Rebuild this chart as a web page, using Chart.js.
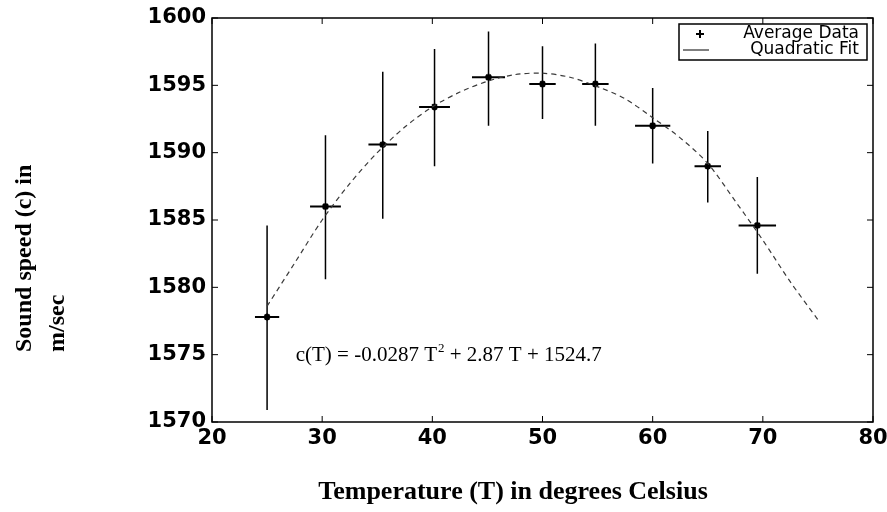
<!DOCTYPE html>
<html>
<head>
<meta charset="utf-8">
<script src="https://cdn.jsdelivr.net/npm/chart.js@4.4.1/dist/chart.umd.min.js"></script>
<style>
  html, body { margin: 0; padding: 0; background: #fff; }
  #wrap { width: 887px; height: 512px; }
</style>
</head>
<body>
<div id="wrap"><canvas id="soundChart" width="887" height="512"></canvas></div>
<script>
const tempC = [25, 30.3, 35.5, 40.2, 45.1, 50.0, 54.8, 60.0, 65.0, 69.5];
const avgSpeed = [1577.8, 1586.0, 1590.6, 1593.4, 1595.6, 1595.1, 1595.1, 1592.0, 1589.0, 1584.6];
const upperSpeed = [1584.6, 1591.3, 1596.0, 1597.7, 1599.0, 1597.9, 1598.1, 1594.8, 1591.6, 1588.2];
const lowerSpeed = [1570.9, 1580.6, 1585.1, 1589.0, 1592.0, 1592.5, 1592.0, 1589.2, 1586.3, 1581.0];
const tempHalfWidth = [1.1, 1.4, 1.3, 1.4, 1.5, 1.2, 1.2, 1.6, 1.2, 1.7];

// Quadratic fit curve as drawn
const fitTemp = [25, 27.5, 30, 32.5, 35, 37.5, 40, 42.5, 45, 47.5, 50, 52.5, 55, 57.5, 60, 62.5, 65, 67.5, 70, 72.5, 75];
const fitSpeed = [1578.6, 1581.8, 1585.0, 1587.7, 1590.0, 1591.9, 1593.4, 1594.5, 1595.3, 1595.8, 1595.9, 1595.6, 1594.9, 1594.0, 1592.6, 1591.1, 1589.2, 1586.4, 1583.5, 1580.4, 1577.6];

const xTicks = [20, 30, 40, 50, 60, 70, 80];
const yTicks = [1570, 1575, 1580, 1585, 1590, 1595, 1600];

const legendLabels = ['Average Data', 'Quadratic Fit'];
const equationText = ['c(T) = -0.0287 T', '2', ' + 2.87 T + 1524.7'];
const xTitle = 'Temperature (T) in degrees Celsius';
const yTitle = ['Sound speed (c) in', 'm/sec'];

// build segment lists for the error bars
const vBars = [];
const hBars = [];
tempC.forEach((t, i) => {
    vBars.push({ x: t, y: lowerSpeed[i] }, { x: t, y: upperSpeed[i] }, { x: t, y: null });
    hBars.push({ x: t - tempHalfWidth[i], y: avgSpeed[i] }, { x: t + tempHalfWidth[i], y: avgSpeed[i] }, { x: t, y: null });
});

const tickFont = { family: 'DejaVu Sans', size: 21, weight: 'bold' };

const decorPlugin = {
    id: 'decor',
    afterDraw(chart) {
        const ctx = chart.ctx;
        const a = chart.chartArea;
        const xs = chart.scales.x, ys = chart.scales.y;
        ctx.save();
        ctx.strokeStyle = '#000';
        ctx.lineWidth = 1.5;
        ctx.strokeRect(a.left, a.top, a.right - a.left, a.bottom - a.top);
        // inward ticks
        ctx.lineWidth = 1;
        ctx.beginPath();
        xTicks.forEach(v => {
            const px = xs.getPixelForValue(v);
            ctx.moveTo(px, a.bottom); ctx.lineTo(px, a.bottom - 6);
            ctx.moveTo(px, a.top); ctx.lineTo(px, a.top + 6);
        });
        yTicks.forEach(v => {
            const py = ys.getPixelForValue(v);
            ctx.moveTo(a.left, py); ctx.lineTo(a.left + 6, py);
            ctx.moveTo(a.right, py); ctx.lineTo(a.right - 6, py);
        });
        ctx.stroke();

        // legend box
        const lx = 679, ly = 24, lw = 188, lh = 36;
        ctx.fillStyle = '#fff';
        ctx.fillRect(lx, ly, lw, lh);
        ctx.lineWidth = 1.5;
        ctx.strokeRect(lx, ly, lw, lh);
        ctx.fillStyle = '#000';
        ctx.font = '17px "DejaVu Sans"';
        ctx.textBaseline = 'middle';
        ctx.textAlign = 'right';
        ctx.fillText(legendLabels[0], lx + lw - 8, ly + 10);
        ctx.fillText(legendLabels[1], lx + lw - 8, ly + 26);
        // marker
        ctx.lineWidth = 2;
        ctx.beginPath();
        ctx.moveTo(lx + 17, ly + 10); ctx.lineTo(lx + 25, ly + 10);
        ctx.moveTo(lx + 21, ly + 6); ctx.lineTo(lx + 21, ly + 14);
        ctx.stroke();
        ctx.lineWidth = 1;
        ctx.beginPath();
        ctx.moveTo(lx + 4, ly + 26); ctx.lineTo(lx + 30, ly + 26);
        ctx.stroke();

        // equation
        ctx.textAlign = 'left';
        let ex = xs.getPixelForValue(27.6);
        const ey = ys.getPixelForValue(1574.5);
        ctx.textBaseline = 'alphabetic';
        ctx.font = '21px "Liberation Serif"';
        ctx.fillText(equationText[0], ex, ey);
        ex += ctx.measureText(equationText[0]).width;
        ctx.font = '13px "Liberation Serif"';
        ctx.fillText(equationText[1], ex + 1, ey - 9);
        ex += ctx.measureText(equationText[1]).width + 1;
        ctx.font = '21px "Liberation Serif"';
        ctx.fillText(equationText[2], ex, ey);

        // axis titles
        ctx.font = 'bold 26px "Liberation Serif"';
        ctx.textAlign = 'center';
        ctx.textBaseline = 'middle';
        ctx.fillText(xTitle, 513, 492);
        ctx.font = 'bold 24px "Liberation Serif"';
        ctx.textAlign = 'left';
        [25, 58].forEach((cx, i) => {
            ctx.save();
            ctx.translate(cx, 352);
            ctx.rotate(-Math.PI / 2);
            ctx.fillText(yTitle[i], 0, 0);
            ctx.restore();
        });
        ctx.restore();
    }
};

new Chart(document.getElementById('soundChart'), {
    type: 'scatter',
    data: {
        datasets: [
            {
                label: 'Quadratic Fit',
                data: fitTemp.map((t, i) => ({ x: t, y: fitSpeed[i] })),
                showLine: true,
                borderColor: '#3a3a3a',
                borderWidth: 1.2,
                borderDash: [5, 4],
                pointRadius: 0,
                tension: 0.3
            },
            {
                label: 'err-v',
                data: vBars,
                showLine: true,
                spanGaps: false,
                borderColor: '#000',
                borderWidth: 1.5,
                pointRadius: 0
            },
            {
                label: 'err-h',
                data: hBars,
                showLine: true,
                spanGaps: false,
                borderColor: '#000',
                borderWidth: 2,
                pointRadius: 0
            },
            {
                label: 'Average Data',
                data: tempC.map((t, i) => ({ x: t, y: avgSpeed[i] })),
                pointStyle: 'star',
                pointRadius: 3.5,
                borderColor: '#000',
                backgroundColor: '#000',
                borderWidth: 2
            }
        ]
    },
    options: {
        responsive: false,
        animation: false,
        devicePixelRatio: 1,
        layout: { padding: { left: 0, right: 14, top: 18, bottom: 0 } },
        plugins: {
            legend: { display: false },
            tooltip: { enabled: false }
        },
        scales: {
            x: {
                type: 'linear',
                min: 20,
                max: 80,
                afterBuildTicks: s => { s.ticks = xTicks.map(v => ({ value: v })); },
                afterFit: s => { s.height = 90; s.paddingLeft = 0; s.paddingRight = 0; },
                grid: { display: false, drawTicks: false },
                border: { display: false },
                ticks: { color: '#000', font: tickFont, padding: 4, maxRotation: 0, callback: v => String(v) }
            },
            y: {
                type: 'linear',
                min: 1570,
                max: 1600,
                afterBuildTicks: s => { s.ticks = yTicks.map(v => ({ value: v })); },
                afterFit: s => { s.width = 212; s.paddingTop = 0; s.paddingBottom = 0; },
                grid: { display: false, drawTicks: false },
                border: { display: false },
                ticks: { color: '#000', font: tickFont, padding: 6, callback: v => String(v) }
            }
        }
    },
    plugins: [decorPlugin]
});
</script>
</body>
</html>
